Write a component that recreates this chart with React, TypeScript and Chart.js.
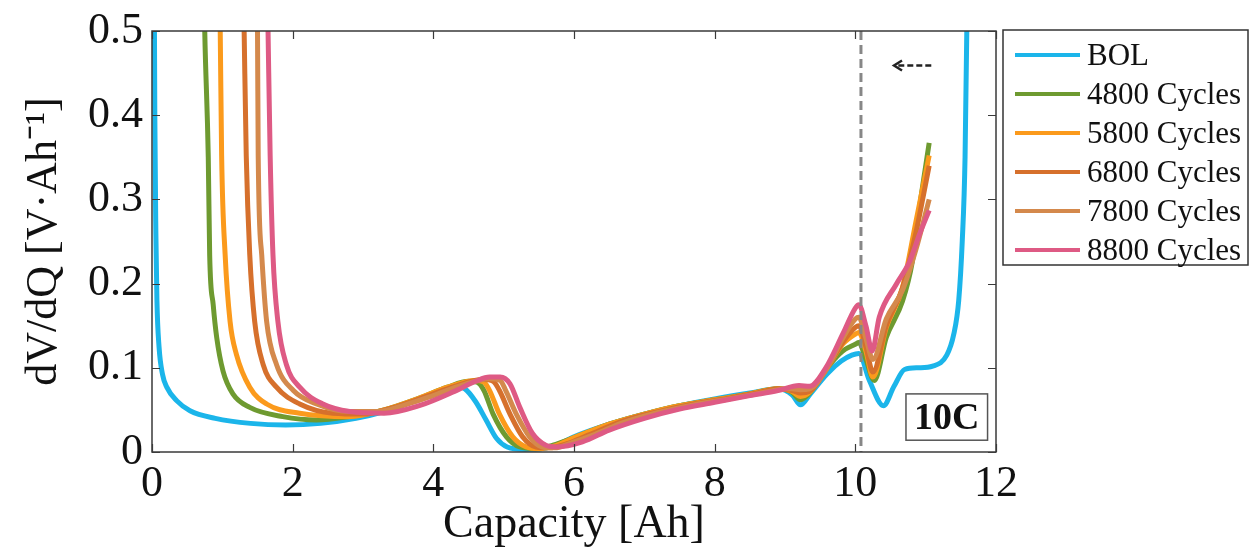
import React, { useEffect, useRef } from "react";
import { Chart, registerables } from "chart.js";

Chart.register(...registerables);

const FONT = "'Liberation Serif', 'Times New Roman', serif";

// ---- data ----
const seriesLabels = ["BOL", "4800 Cycles", "5800 Cycles", "6800 Cycles", "7800 Cycles", "8800 Cycles"];
const seriesColors = ["#1bb5ea", "#6e9a30", "#fb9a1c", "#d6702c", "#d4894c", "#de5a84"];

const bolX = [0.03, 0.04, 0.055, 0.07, 0.1, 0.15, 0.21, 0.35, 0.54, 0.9, 1.4, 1.9, 2.4, 2.9, 3.3, 3.7, 4.0, 4.3, 4.45, 4.6, 4.75, 4.9, 5.05, 5.3, 5.55, 5.8, 6.0, 6.5, 7.0, 7.5, 8.0, 8.5, 8.9, 9.1, 9.22, 9.35, 9.6, 9.8, 9.95, 10.05, 10.2, 10.4, 10.55, 10.7, 10.9, 11.1, 11.3, 11.4, 11.47, 11.52, 11.56, 11.6];
const bolY = [0.6, 0.4, 0.26, 0.18, 0.125, 0.092, 0.077, 0.061, 0.049, 0.04, 0.034, 0.032, 0.034, 0.04, 0.048, 0.06, 0.07, 0.078, 0.075, 0.06, 0.038, 0.016, 0.006, 0.003, 0.004, 0.01, 0.018, 0.033, 0.045, 0.055, 0.063, 0.07, 0.075, 0.068, 0.056, 0.068, 0.093, 0.108, 0.115, 0.117, 0.085, 0.055, 0.078, 0.098, 0.1, 0.102, 0.115, 0.14, 0.18, 0.25, 0.35, 0.6];

const c4800X = [0.73, 0.75, 0.8, 0.82, 0.87, 0.92, 1.01, 1.15, 1.39, 1.86, 2.34, 2.8, 3.3, 3.8, 4.2, 4.5, 4.62, 4.72, 4.85, 5.04, 5.23, 5.45, 5.7, 6.0, 6.5, 7.0, 7.5, 8.0, 8.5, 8.9, 9.1, 9.22, 9.35, 9.6, 9.82, 10.0, 10.05, 10.15, 10.27, 10.44, 10.67, 10.81, 10.91, 11.05];
const c4800Y = [0.6, 0.5, 0.35, 0.234, 0.175, 0.136, 0.096, 0.069, 0.053, 0.042, 0.038, 0.042, 0.05, 0.064, 0.077, 0.084, 0.083, 0.073, 0.045, 0.018, 0.006, 0.004, 0.008, 0.017, 0.033, 0.045, 0.055, 0.062, 0.069, 0.075, 0.071, 0.062, 0.07, 0.1, 0.12, 0.128, 0.13, 0.11, 0.085, 0.136, 0.179, 0.226, 0.289, 0.367];

const c5800X = [0.95, 0.97, 0.99, 1.04, 1.11, 1.2, 1.39, 1.63, 2.1, 2.8, 3.3, 3.8, 4.2, 4.6, 4.72, 4.8, 4.94, 5.13, 5.32, 5.5, 5.75, 6.0, 6.5, 7.0, 7.5, 8.0, 8.5, 8.9, 9.1, 9.22, 9.35, 9.6, 9.82, 10.0, 10.05, 10.15, 10.25, 10.44, 10.67, 10.86, 11.05];
const c5800Y = [0.6, 0.5, 0.352, 0.234, 0.155, 0.116, 0.077, 0.057, 0.046, 0.042, 0.05, 0.064, 0.077, 0.085, 0.083, 0.073, 0.045, 0.018, 0.006, 0.004, 0.008, 0.017, 0.033, 0.045, 0.055, 0.062, 0.069, 0.075, 0.072, 0.066, 0.071, 0.1, 0.128, 0.14, 0.142, 0.12, 0.089, 0.148, 0.195, 0.273, 0.352];

const c6800X = [1.29, 1.31, 1.34, 1.39, 1.46, 1.58, 1.77, 2.1, 2.57, 3.0, 3.4, 3.9, 4.3, 4.7, 4.85, 4.94, 5.09, 5.27, 5.46, 5.65, 5.9, 6.2, 6.7, 7.2, 7.7, 8.2, 8.6, 8.9, 9.1, 9.22, 9.35, 9.6, 9.82, 10.0, 10.05, 10.15, 10.25, 10.44, 10.67, 10.86, 11.05];
const c6800Y = [0.6, 0.5, 0.352, 0.234, 0.155, 0.104, 0.077, 0.057, 0.046, 0.045, 0.052, 0.066, 0.078, 0.086, 0.084, 0.073, 0.045, 0.018, 0.006, 0.005, 0.01, 0.02, 0.037, 0.048, 0.057, 0.064, 0.07, 0.075, 0.073, 0.07, 0.072, 0.1, 0.13, 0.148, 0.15, 0.125, 0.095, 0.15, 0.195, 0.26, 0.34];

const c7800X = [1.48, 1.5, 1.51, 1.56, 1.63, 1.77, 2.01, 2.34, 2.8, 3.2, 3.6, 4.0, 4.4, 4.8, 4.95, 5.03, 5.18, 5.37, 5.55, 5.72, 6.0, 6.3, 6.7, 7.2, 7.7, 8.2, 8.6, 8.9, 9.1, 9.22, 9.35, 9.6, 9.82, 10.0, 10.05, 10.15, 10.25, 10.44, 10.67, 10.86, 11.05];
const c7800Y = [0.6, 0.5, 0.352, 0.234, 0.155, 0.104, 0.073, 0.057, 0.048, 0.048, 0.056, 0.067, 0.079, 0.087, 0.085, 0.073, 0.045, 0.018, 0.006, 0.005, 0.012, 0.021, 0.035, 0.047, 0.056, 0.063, 0.069, 0.074, 0.075, 0.074, 0.075, 0.1, 0.135, 0.158, 0.16, 0.135, 0.11, 0.158, 0.192, 0.24, 0.3];

const c8800X = [1.63, 1.65, 1.68, 1.72, 1.79, 1.91, 2.1, 2.43, 2.81, 3.3, 3.8, 4.3, 4.6, 4.8, 4.95, 5.09, 5.23, 5.41, 5.6, 5.75, 6.12, 6.5, 7.0, 7.5, 8.0, 8.5, 8.9, 9.2, 9.35, 9.58, 9.82, 10.0, 10.05, 10.15, 10.24, 10.34, 10.58, 10.77, 10.91, 11.05];
const c8800Y = [0.6, 0.5, 0.352, 0.234, 0.155, 0.104, 0.077, 0.057, 0.048, 0.046, 0.055, 0.072, 0.084, 0.089, 0.089, 0.081, 0.053, 0.022, 0.008, 0.006, 0.012, 0.026, 0.04, 0.051, 0.059, 0.067, 0.073, 0.079, 0.078, 0.1, 0.14, 0.171, 0.175, 0.15, 0.12, 0.16, 0.199, 0.226, 0.258, 0.287];

const seriesX = [bolX, c4800X, c5800X, c6800X, c7800X, c8800X];
const seriesY = [bolY, c4800Y, c5800Y, c6800Y, c7800Y, c8800Y];

const xTicks = [0, 2, 4, 6, 8, 10, 12];
const xTickLabels = ["0", "2", "4", "6", "8", "10", "12"];
const yTicks = [0, 0.1, 0.2, 0.3, 0.4, 0.5];
const yTickLabels = ["0", "0.1", "0.2", "0.3", "0.4", "0.5"];

const xTitle = "Capacity [Ah]";
const yTitle = "dV/dQ [V\u00b7Ah\u207b\u00b9]";

// annotations (data units)
const markerX = 10.08;
const arrowFrom = { x: 11.08, y: 0.459 };
const arrowTo = { x: 10.55, y: 0.459 };
const rateLabel = "10C";
const rateBox = { x0: 10.72, x1: 11.88, y0: 0.069, y1: 0.014 };

const decorPlugin = {
  id: "decor",
  afterDatasetsDraw(chart: any) {
    const { ctx, chartArea: a, scales } = chart;
    const x = scales.x;
    const y = scales.y;
    ctx.save();
    // dashed vertical marker
    const mx = x.getPixelForValue(markerX);
    ctx.strokeStyle = "#878787";
    ctx.lineWidth = 3;
    ctx.setLineDash([9, 5]);
    ctx.beginPath();
    ctx.moveTo(mx, a.top);
    ctx.lineTo(mx, a.bottom);
    ctx.stroke();
    ctx.setLineDash([]);

    // frame
    ctx.strokeStyle = "#3a3a3a";
    ctx.lineWidth = 1.5;
    ctx.strokeRect(a.left, a.top, a.right - a.left, a.bottom - a.top);
    const tl = 8;
    ctx.lineWidth = 1.2;
    ctx.beginPath();
    xTicks.forEach((v) => {
      const px = Math.round(x.getPixelForValue(v)) + 0.5;
      ctx.moveTo(px, a.bottom);
      ctx.lineTo(px, a.bottom - tl);
      ctx.moveTo(px, a.top);
      ctx.lineTo(px, a.top + tl);
    });
    yTicks.forEach((v) => {
      const py = Math.round(y.getPixelForValue(v)) + 0.5;
      ctx.moveTo(a.left, py);
      ctx.lineTo(a.left + tl, py);
      ctx.moveTo(a.right, py);
      ctx.lineTo(a.right - tl, py);
    });
    ctx.stroke();

    // arrow
    const ax0 = x.getPixelForValue(arrowFrom.x);
    const ax1 = x.getPixelForValue(arrowTo.x);
    const ay = y.getPixelForValue(arrowTo.y);
    ctx.strokeStyle = "#222";
    ctx.lineWidth = 2.5;
    ctx.setLineDash([6, 3]);
    ctx.beginPath();
    ctx.moveTo(ax0, ay);
    ctx.lineTo(ax1 + 3, ay);
    ctx.stroke();
    ctx.setLineDash([]);
    ctx.beginPath();
    ctx.moveTo(ax1 + 8, ay - 5);
    ctx.lineTo(ax1, ay);
    ctx.lineTo(ax1 + 8, ay + 5);
    ctx.stroke();

    // rate box
    const bx0 = x.getPixelForValue(rateBox.x0);
    const bx1 = x.getPixelForValue(rateBox.x1);
    const by0 = y.getPixelForValue(rateBox.y0);
    const by1 = y.getPixelForValue(rateBox.y1);
    ctx.fillStyle = "#fff";
    ctx.fillRect(bx0, by0, bx1 - bx0, by1 - by0);
    ctx.strokeStyle = "#555";
    ctx.lineWidth = 1.5;
    ctx.strokeRect(bx0, by0, bx1 - bx0, by1 - by0);
    ctx.fillStyle = "#111";
    ctx.font = `bold 38px ${FONT}`;
    ctx.textAlign = "center";
    ctx.textBaseline = "middle";
    ctx.fillText(rateLabel, (bx0 + bx1) / 2, (by0 + by1) / 2 + 2);

    // legend
    const lx = 1003, ly = 30, lw = 245, lh = 235;
    ctx.fillStyle = "#fff";
    ctx.fillRect(lx, ly, lw, lh);
    ctx.strokeStyle = "#333";
    ctx.lineWidth = 1.5;
    ctx.strokeRect(lx, ly, lw, lh);
    ctx.font = `31px ${FONT}`;
    ctx.textAlign = "left";
    ctx.textBaseline = "middle";
    chart.data.datasets.forEach((ds: any, i: number) => {
      const rowY = 55 + i * 39;
      ctx.strokeStyle = ds.borderColor;
      ctx.lineWidth = 4;
      ctx.beginPath();
      ctx.moveTo(1015, rowY);
      ctx.lineTo(1080, rowY);
      ctx.stroke();
      ctx.fillStyle = "#111";
      ctx.fillText(ds.label, 1087, rowY + 2);
    });
    ctx.restore();
  },
};

export default function App() {
  const ref = useRef<HTMLCanvasElement | null>(null);
  useEffect(() => {
    if (!ref.current) return;
    const datasets = seriesLabels.map((label, i) => ({
      label,
      data: seriesX[i].map((xv, j) => ({ x: xv, y: seriesY[i][j] })),
      borderColor: seriesColors[i],
      backgroundColor: seriesColors[i],
      borderWidth: 5,
      pointRadius: 0,
      cubicInterpolationMode: "monotone" as const,
      fill: false,
      clip: 0,
      order: seriesLabels.length - i,
    }));
    const chart = new Chart(ref.current, {
      type: "line",
      data: { datasets },
      options: {
        responsive: false,
        animation: false,
        layout: { padding: { top: 27, right: 253, left: 0, bottom: 0 } },
        plugins: { legend: { display: false }, tooltip: { enabled: false } },
        scales: {
          x: {
            type: "linear",
            min: 0,
            max: 12,
            afterFit: (s: any) => {
              s.height = 101;
            },
            afterBuildTicks: (s: any) => {
              s.ticks = xTicks.map((v) => ({ value: v }));
            },
            grid: { display: false, drawTicks: false },
            border: { display: false },
            ticks: {
              padding: 10,
              color: "#111",
              font: { family: FONT, size: 44, lineHeight: 1 },
              maxRotation: 0,
              autoSkip: false,
              callback: (_v: any, i: number) => xTickLabels[i],
            },
            title: {
              display: true,
              text: xTitle,
              color: "#111",
              font: { family: FONT, size: 46, lineHeight: 1.2 },
              padding: { top: 0, bottom: 0 },
            },
          },
          y: {
            type: "linear",
            min: 0,
            max: 0.5,
            afterFit: (s: any) => {
              s.width = 152;
            },
            afterBuildTicks: (s: any) => {
              s.ticks = yTicks.map((v) => ({ value: v }));
            },
            grid: { display: false, drawTicks: false },
            border: { display: false },
            ticks: {
              padding: 9,
              color: "#111",
              font: { family: FONT, size: 44, lineHeight: 1 },
              autoSkip: false,
              callback: (_v: any, i: number) => yTickLabels[i],
            },
            title: {
              display: true,
              text: yTitle,
              color: "#111",
              font: { family: FONT, size: 44, lineHeight: 1.2 },
              padding: { top: 18, bottom: 0 },
            },
          },
        },
      },
      plugins: [decorPlugin],
    });
    return () => chart.destroy();
  }, []);
  return (
    <div style={{ position: "absolute", left: 0, top: 0, width: 1249, height: 553, background: "#fff" }}>
      <canvas ref={ref} width={1249} height={553} style={{ width: 1249, height: 553, display: "block" }} />
    </div>
  );
}
